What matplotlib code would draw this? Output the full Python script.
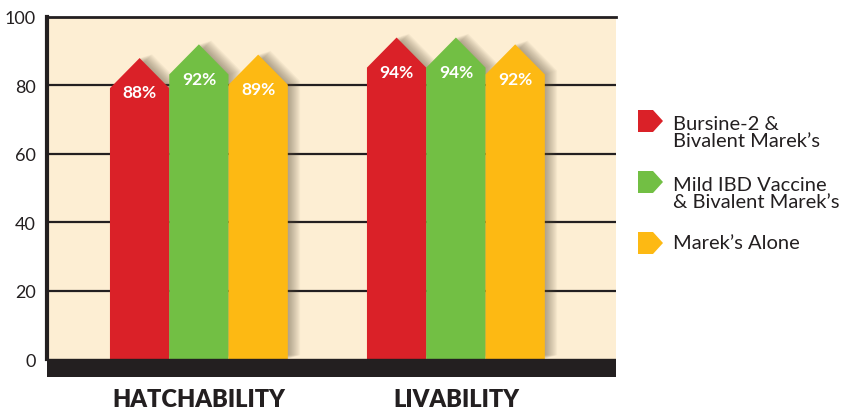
import matplotlib
matplotlib.use('Agg')
import matplotlib.pyplot as plt
from matplotlib.patches import Polygon
from matplotlib.transforms import ScaledTranslation

plt.rcParams['font.family'] = ['Lato', 'DejaVu Sans']

categories = ['HATCHABILITY', 'LIVABILITY']
series_names = ['Bursine-2 &\nBivalent Marek\u2019s',
                'Mild IBD Vaccine\n& Bivalent Marek\u2019s',
                'Marek\u2019s Alone']
bursine = [88, 94]
mild_ibd = [92, 94]
mareks_alone = [89, 92]
yticks = [0, 20, 40, 60, 80, 100]

colors = ['#DA2128', '#72BF44', '#FDB913']
ink = '#231F20'
bg = '#FDEED3'

series = [bursine, mild_ibd, mareks_alone]
bar_w = 0.2307
drop = 8.8
floor = -5.26


def arrow_bar(xc, v):
    x0 = xc - bar_w / 2
    x1 = xc + bar_w / 2
    return [(x0, 0), (x0, v - drop), (xc, v), (x1, v - drop), (x1, 0)]


fig = plt.figure(figsize=(8.41, 4.10), dpi=100)
ax = fig.add_axes([47 / 841, 32 / 410, 569 / 841, 360 / 410])
ax.set_facecolor(bg)
ax.set_xlim(-0.591, 1.623)
ax.set_ylim(floor, 100)

for y in yticks[1:-1]:
    ax.axhline(y, color=ink, lw=1.6, zorder=1)
ax.axhspan(floor, 0, color=ink, zorder=5)

# soft shadows first, then the bars on top
for gi in range(len(categories)):
    for si, vals in enumerate(series):
        xc = gi + (si - 1) * bar_w
        for k in range(1, 12):
            off = ScaledTranslation(k * 0.8 / 72, 0.25 * k / 72, fig.dpi_scale_trans)
            sh = Polygon(arrow_bar(xc, vals[gi]), closed=True, facecolor='#5E523E',
                         edgecolor='none', alpha=0.05, zorder=2,
                         transform=ax.transData + off)
            ax.add_patch(sh)

for gi in range(len(categories)):
    for si, vals in enumerate(series):
        xc = gi + (si - 1) * bar_w
        v = vals[gi]
        ax.add_patch(Polygon(arrow_bar(xc, v), closed=True, facecolor=colors[si],
                             edgecolor='none', zorder=3))
        ax.text(xc, v - 10, f'{v}%', ha='center', va='center', color='white',
                fontsize=12.5, fontweight='bold', zorder=4)

for side in ['right', 'bottom']:
    ax.spines[side].set_visible(False)
ax.spines['left'].set_linewidth(3)
ax.spines['left'].set_color(ink)
ax.spines['left'].set_bounds(0, 100)
ax.spines['top'].set_linewidth(2)
ax.spines['top'].set_color(ink)

ax.set_yticks(yticks)
ax.set_yticklabels([str(t) for t in yticks], fontsize=13, color=ink)
ax.set_xticks(range(len(categories)))
ax.set_xticklabels(categories, fontsize=17, fontweight='heavy', color=ink)
ax.tick_params(axis='y', length=0, pad=8)
ax.tick_params(axis='x', length=0, pad=8)

# legend drawn in pixel space
lg = fig.add_axes([0, 0, 1, 1], facecolor='none')
lg.set_xlim(0, 841)
lg.set_ylim(410, 0)
lg.axis('off')
marker_tops = [111, 172, 233]
for top, col, name in zip(marker_tops, colors, series_names):
    mk = [(638, top), (653, top), (663, top + 11), (653, top + 22), (638, top + 22)]
    lg.add_patch(Polygon(mk, closed=True, facecolor=col, edgecolor='none'))
    n_lines = name.count('\n') + 1
    ty = top + 11 if n_lines == 1 else top + 22
    lg.text(673, ty, name, ha='left', va='center', fontsize=14.5, color=ink,
            linespacing=1.0)

fig.savefig('out.png', dpi=100)
